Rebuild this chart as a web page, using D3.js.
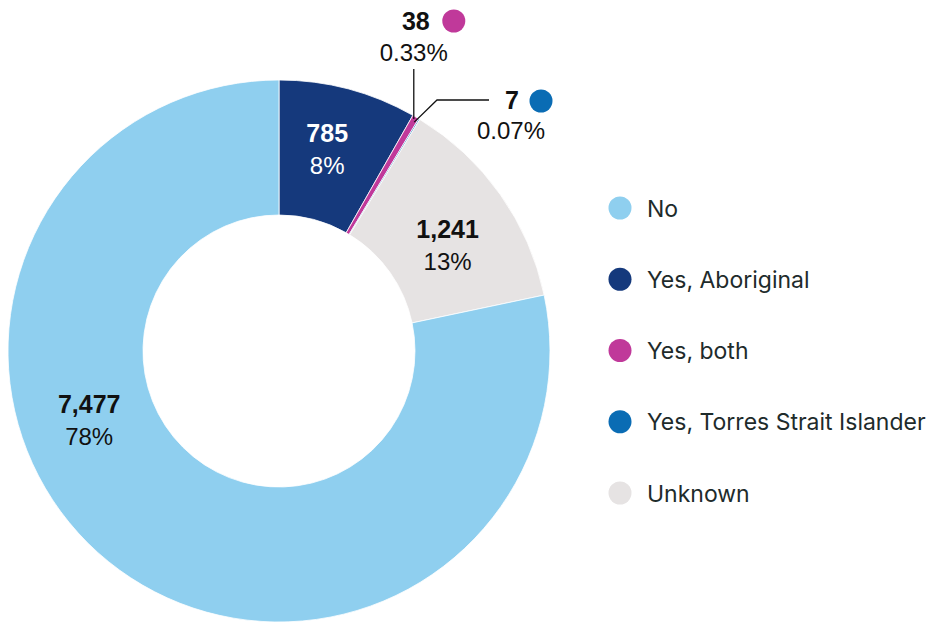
<!DOCTYPE html>
<html>
<head>
<meta charset="utf-8">
<script src="https://cdn.jsdelivr.net/npm/d3@7"></script>
<style>
  html, body { margin: 0; padding: 0; background: #fff; }
  svg { display: block; }
</style>
</head>
<body>
<svg id="chart" width="928" height="622"></svg>
<script>
// Indigenous status breakdown
const categories = ["Yes, Aboriginal", "Yes, both", "Yes, Torres Strait Islander", "Unknown", "No"];
const counts = [785, 38, 7, 1241, 7477];
const percentLabels = ["8%", "0.33%", "0.07%", "13%", "78%"];
const colours = ["#15397c", "#c0399a", "#0a6cb4", "#e6e3e3", "#8fcfef"];
const legendOrder = ["No", "Yes, Aboriginal", "Yes, both", "Yes, Torres Strait Islander", "Unknown"];

const svg = d3.select("#chart");
const cx = 279, cy = 351;
const outerR = 271, innerR = 136;

const colour = d3.scaleOrdinal().domain(categories).range(colours);
const data = categories.map((c, i) => ({ cat: c, value: counts[i], pct: percentLabels[i] }));

const pie = d3.pie().sort(null).value(d => d.value);
const arcs = pie(data);
const arc = d3.arc().innerRadius(innerR).outerRadius(outerR);

const g = svg.append("g").attr("transform", `translate(${cx},${cy})`);

g.selectAll("path.slice")
  .data(arcs)
  .join("path")
  .attr("class", "slice")
  .attr("d", arc)
  .attr("fill", d => colour(d.data.cat))
  .attr("stroke", "#fff")
  .attr("stroke-width", 0.8);

const numFont = "'Liberation Sans', Arial, sans-serif";
const fmt = d3.format(",");

// In-slice labels for the large segments (angle in degrees from 12 o'clock, radius)
const inside = { "Yes, Aboriginal": [13.4, 208, "#fff"], "Unknown": [57.9, 199, "#111"], "No": [250, 202, "#111"] };
arcs.filter(a => inside[a.data.cat]).forEach(a => {
  const [deg, r, fill] = inside[a.data.cat];
  const t = deg * Math.PI / 180;
  const x = r * Math.sin(t), y = -r * Math.cos(t);
  const lg = g.append("g").attr("transform", `translate(${x},${y})`)
    .attr("font-family", numFont).attr("text-anchor", "middle").attr("fill", fill);
  lg.append("text").attr("y", -7).attr("font-size", 25).attr("font-weight", 700).text(fmt(a.value));
  lg.append("text").attr("y", 25).attr("font-size", 24).text(a.data.pct);
});

// Callout labels for the thin segments
const edgePoint = a => {
  const t = (a.startAngle + a.endAngle) / 2;
  return [outerR * Math.sin(t), -outerR * Math.cos(t)];
};
const bothArc = arcs.find(a => a.data.cat === "Yes, both");
const tsiArc = arcs.find(a => a.data.cat === "Yes, Torres Strait Islander");

{
  const [x0, y0] = edgePoint(bothArc);
  g.append("path")
    .attr("d", `M${x0 - 2},${y0 + 2}V${69 - cy}`)
    .attr("fill", "none").attr("stroke", "#111").attr("stroke-width", 1.3);
  const tx = x0 - 2;
  g.append("text").attr("x", tx + 16).attr("y", 30 - cy)
    .attr("font-family", numFont).attr("font-size", 25).attr("font-weight", 700)
    .attr("text-anchor", "end").attr("fill", "#111").text(fmt(bothArc.value));
  g.append("circle").attr("cx", tx + 40).attr("cy", 21 - cy).attr("r", 11.5).attr("fill", colour(bothArc.data.cat));
  g.append("text").attr("x", tx).attr("y", 61 - cy)
    .attr("font-family", numFont).attr("font-size", 24)
    .attr("text-anchor", "middle").attr("fill", "#111").text(bothArc.data.pct);
}
{
  const [x0, y0] = edgePoint(tsiArc);
  g.append("path")
    .attr("d", `M${x0 - 5},${y0 + 3}L${437 - cx},${100 - cy}H${489 - cx}`)
    .attr("fill", "none").attr("stroke", "#111").attr("stroke-width", 1.3);
  g.append("text").attr("x", 519 - cx).attr("y", 109 - cy)
    .attr("font-family", numFont).attr("font-size", 25).attr("font-weight", 700)
    .attr("text-anchor", "end").attr("fill", "#111").text(fmt(tsiArc.value));
  g.append("circle").attr("cx", 541 - cx).attr("cy", 101 - cy).attr("r", 11.5).attr("fill", colour(tsiArc.data.cat));
  g.append("text").attr("x", 511 - cx).attr("y", 139 - cy)
    .attr("font-family", numFont).attr("font-size", 24)
    .attr("text-anchor", "middle").attr("fill", "#111").text(tsiArc.data.pct);
}

// Legend
const ly = d3.scalePoint().domain(legendOrder).range([208, 493]);
const legend = svg.append("g");
const rows = legend.selectAll("g").data(legendOrder).join("g")
  .attr("transform", d => `translate(620,${ly(d)})`);
rows.append("circle").attr("r", 11.5).attr("fill", d => colour(d));
rows.append("text").attr("x", 27).attr("y", 8.5)
  .attr("font-family", "Inter, 'Noto Sans', sans-serif")
  .attr("font-size", 23).attr("font-weight", 400)
  .attr("fill", "#1e2b2b").text(d => d);
</script>
</body>
</html>
